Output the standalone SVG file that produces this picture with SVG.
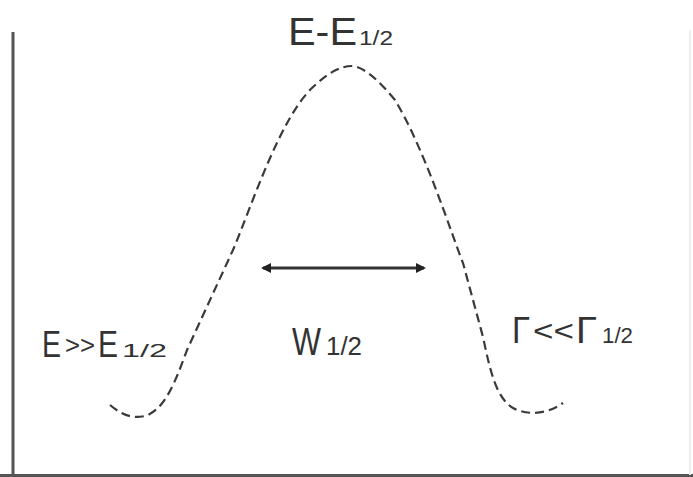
<svg xmlns="http://www.w3.org/2000/svg" width="693" height="477" viewBox="0 0 693 477">
<style>
.axis{stroke:#555;stroke-width:3;fill:none}
.curve{stroke:#3a3a3a;stroke-width:2.2;fill:none;stroke-dasharray:9 5}
text{font-family:"Liberation Sans",Arial,sans-serif;fill:#333}
</style>
<defs>
<marker id="ah" markerWidth="10" markerHeight="10" refX="8" refY="5" orient="auto-start-reverse" markerUnits="userSpaceOnUse">
<path d="M0,0 L10,5 L0,10 Z" fill="#222"/>
</marker>
</defs>
<rect width="693" height="477" fill="#fff"/>
<g id="axes">
<line class="axis" x1="13" y1="32" x2="13" y2="477"/>
<line class="axis" x1="0" y1="475.5" x2="693" y2="475.5"/>
<line x1="690" y1="30" x2="690" y2="475" stroke="#eee" stroke-width="2"/>
</g>
<g id="connectors">
<path id="curve" class="curve" d="M110,405 C122,415 132,419 145,416 C165,410 176,380 187,350 L233,250 C252,205 280,118 313,87 C328,73 340,66 352,66 C365,67 380,82 395,100 C425,150 450,230 463,263 L483,337 C490,370 496,398 513,408 C528,416 548,414 563,403"/>
<line id="width-arrow" x1="263" y1="268" x2="424" y2="268" stroke="#333" stroke-width="3" marker-start="url(#ah)" marker-end="url(#ah)"/>
</g>
<g id="label-top">
<text x="288" y="45" font-size="38" textLength="69" lengthAdjust="spacingAndGlyphs">E-E</text>
<text x="359" y="45" font-size="20" textLength="34" lengthAdjust="spacingAndGlyphs">1/2</text>
</g>
<g id="label-left">
<text x="42" y="357" font-size="36" textLength="19" lengthAdjust="spacingAndGlyphs">E</text>
<text x="65" y="354" font-size="26" textLength="30" lengthAdjust="spacingAndGlyphs">&gt;&gt;</text>
<text x="98" y="357" font-size="36" textLength="20" lengthAdjust="spacingAndGlyphs">E</text>
<text x="122" y="357" font-size="19" textLength="45" lengthAdjust="spacingAndGlyphs">1/2</text>
</g>
<g id="label-mid">
<text x="292" y="355" font-size="38" textLength="29" lengthAdjust="spacingAndGlyphs">W</text>
<text x="326" y="355" font-size="25" textLength="36" lengthAdjust="spacingAndGlyphs">1/2</text>
</g>
<g id="label-right">
<text x="512" y="343" font-size="36" textLength="18" lengthAdjust="spacingAndGlyphs">Γ</text>
<text x="533" y="341" font-size="30" textLength="41" lengthAdjust="spacingAndGlyphs">&lt;&lt;</text>
<text x="576" y="343" font-size="36" textLength="21" lengthAdjust="spacingAndGlyphs">Γ</text>
<text x="602" y="343" font-size="22" textLength="31" lengthAdjust="spacingAndGlyphs">1/2</text>
</g>
</svg>
